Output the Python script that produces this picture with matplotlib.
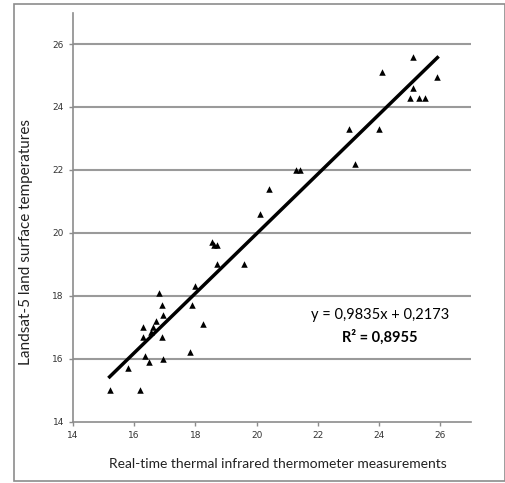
import numpy as np
import matplotlib.pyplot as plt
from matplotlib.patches import Rectangle

# Mediciones (x) y temperaturas Landsat-5 (y)
x_medida = np.array([15.2, 15.8, 16.2, 16.3, 16.3, 16.35, 16.5, 16.55, 16.6, 16.7,
                     16.82, 16.9, 16.95, 16.9, 16.95, 17.82, 17.88, 18.0, 18.26,
                     18.55, 18.6, 18.7, 18.7, 19.6, 20.1, 20.4, 21.3, 21.4,
                     23.0, 23.2, 24.0, 24.1, 25.0, 25.1, 25.1, 25.3, 25.5, 25.9])
y_landsat = np.array([15.0, 15.7, 15.0, 17.0, 16.7, 16.1, 15.9, 16.85, 17.0, 17.2,
                      18.1, 17.7, 17.4, 16.7, 16.0, 16.2, 17.7, 18.3, 17.1,
                      19.7, 19.6, 19.6, 19.0, 19.0, 20.6, 21.4, 22.0, 22.0,
                      23.3, 22.2, 23.3, 25.1, 24.3, 25.6, 24.6, 24.3, 24.3, 24.95])
ticks = [14, 16, 18, 20, 22, 24, 26]

pendiente, intercepto = np.polyfit(x_medida, y_landsat, 1)

fig = plt.figure(figsize=(5.06, 4.83), dpi=100)
fig.patches.append(Rectangle((14 / 506, 2 / 483), 491 / 506, 477 / 483,
                             transform=fig.transFigure, fill=False,
                             edgecolor='#8c8c8c', linewidth=1.2))
ax = fig.add_axes([0.144, 0.127, 0.787, 0.847])

for t in ticks[1:]:
    ax.axhline(t, color='#9a9a9a', linewidth=1.5, zorder=1)

ax.scatter(x_medida, y_landsat, marker='^', color='black', s=22, zorder=3, linewidths=0)
xl = np.array([x_medida.min(), x_medida.max()])
ax.plot(xl, pendiente * xl + intercepto, color='black', linewidth=2.5, zorder=2)

ax.set_xlim(14, 27)
ax.set_ylim(14, 27)
ax.set_xticks(ticks)
ax.set_yticks(ticks)
ax.tick_params(labelsize=6.5, length=3, color='#8c8c8c', labelcolor='#333333', width=1)
for s in ['top', 'right']:
    ax.spines[s].set_visible(False)
for s in ['left', 'bottom']:
    ax.spines[s].set_color('#8c8c8c')
    ax.spines[s].set_linewidth(1.2)

ax.set_xlabel('Real-time thermal infrared thermometer measurements', fontsize=10,
              family='Lato', color='#222222')
ax.set_ylabel('Landsat-5 land surface temperatures', fontsize=11,
              family='Lato', color='#222222')
ax.xaxis.set_label_coords(0.515, -0.088)
ax.yaxis.set_label_coords(-0.10, 0.44)

ax.text(24.03, 17.39, 'y = 0,9835x + 0,2173', fontsize=10.5, family='Lato', ha='center', va='center')
ax.text(24.03, 16.69, 'R² = 0,8955', fontsize=10.5, family='Lato', weight='bold', ha='center', va='center')

plt.savefig('out.png')
